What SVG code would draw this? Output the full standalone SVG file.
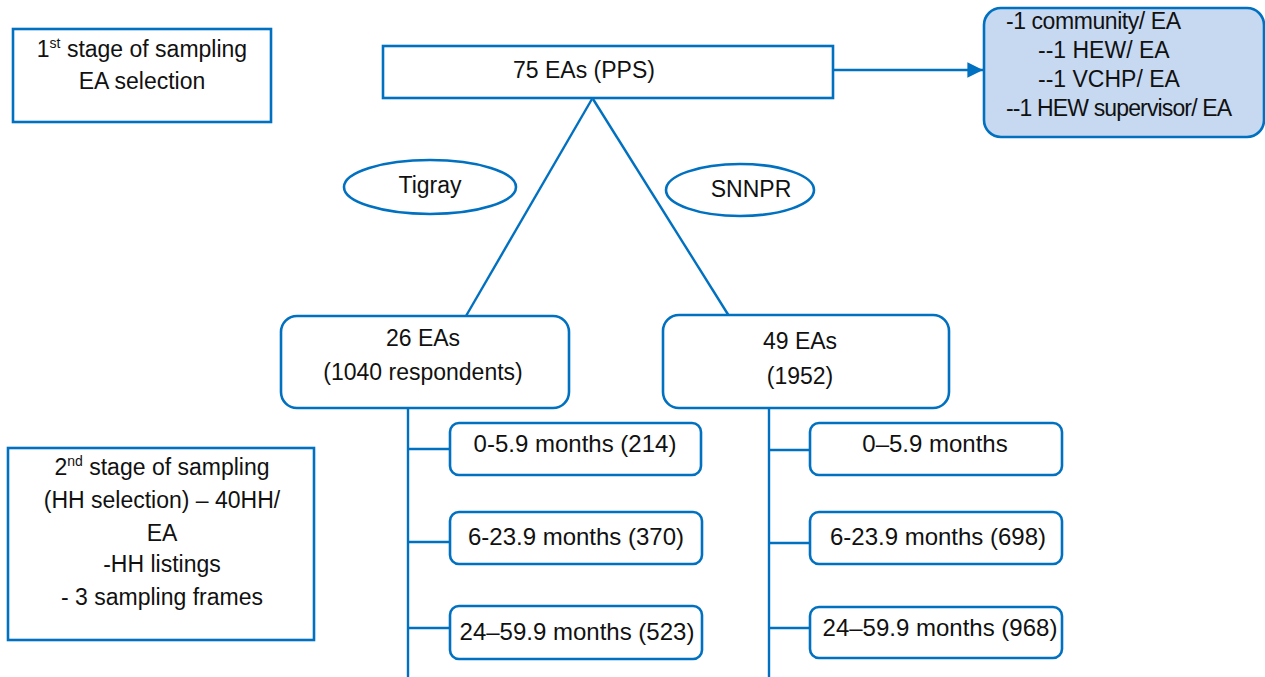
<svg xmlns="http://www.w3.org/2000/svg" width="1265" height="677" viewBox="0 0 1265 677">
  <defs>
    <style>
      .box { fill: #ffffff; stroke: #0070c0; stroke-width: 2.6; }
      .note { fill: #c6d9f1; stroke: #0070c0; stroke-width: 2.6; }
      .link { fill: none; stroke: #0070c0; stroke-width: 2.4; }
      text { font-family: "Liberation Sans", Arial, sans-serif; font-size: 23px; fill: #111111; }
      .c { text-anchor: middle; }
      .age { font-size: 24px; }
      .sup { font-size: 14px; }
    </style>
    <marker id="arrow" viewBox="0 0 10 10" refX="10" refY="5" markerWidth="7" markerHeight="6.5" markerUnits="strokeWidth" orient="auto">
      <path d="M0,0 L10,5 L0,10 Z" fill="#0070c0"/>
    </marker>
  </defs>

  <rect width="1265" height="677" fill="#ffffff"/>

  <!-- connectors -->
  <g id="connectors">
    <line class="link" x1="833" y1="70" x2="983" y2="70" marker-end="url(#arrow)"/>
    <line class="link" x1="592" y1="99" x2="466" y2="316"/>
    <line class="link" x1="593" y1="99" x2="729" y2="316"/>
    <!-- Tigray branch -->
    <line class="link" x1="408" y1="408" x2="408" y2="677"/>
    <line class="link" x1="408" y1="449" x2="450" y2="449"/>
    <line class="link" x1="408" y1="542" x2="450" y2="542"/>
    <line class="link" x1="408" y1="628" x2="450" y2="628"/>
    <!-- SNNPR branch -->
    <line class="link" x1="769" y1="408" x2="769" y2="677"/>
    <line class="link" x1="769" y1="450" x2="810" y2="450"/>
    <line class="link" x1="769" y1="543" x2="810" y2="543"/>
    <line class="link" x1="769" y1="628" x2="810" y2="628"/>
  </g>

  <g id="stage1">
    <rect class="box" x="13" y="29" width="258" height="93"/>
    <text class="c" x="142" y="57">1<tspan class="sup" dy="-9">st</tspan><tspan dy="9"> stage of sampling</tspan></text>
    <text class="c" x="142" y="89">EA selection</text>
  </g>

  <g id="ea75">
    <rect class="box" x="383" y="46" width="450" height="52"/>
    <text class="c" x="584" y="78">75 EAs (PPS)</text>
  </g>

  <g id="community">
    <rect class="note" x="984" y="8" width="280" height="129" rx="17" ry="17"/>
    <text x="1006" y="29" textLength="175">-1 community/ EA</text>
    <text x="1038" y="58">--1 HEW/ EA</text>
    <text x="1038" y="87">--1 VCHP/ EA</text>
    <text x="1006" y="116" textLength="226">--1 HEW supervisor/ EA</text>
  </g>

  <g id="tigray">
    <ellipse class="box" cx="430" cy="187" rx="86" ry="27"/>
    <text class="c" x="430" y="193">Tigray</text>
  </g>

  <g id="snnpr">
    <ellipse class="box" cx="740" cy="190" rx="74" ry="26"/>
    <text class="c" x="751" y="197">SNNPR</text>
  </g>

  <g id="ea26">
    <rect class="box" x="281" y="316" width="288" height="92" rx="16" ry="16"/>
    <text class="c" x="423" y="346">26 EAs</text>
    <text class="c" x="423" y="380">(1040 respondents)</text>
  </g>

  <g id="ea49">
    <rect class="box" x="663" y="315" width="286" height="93" rx="16" ry="16"/>
    <text class="c" x="800" y="349">49 EAs</text>
    <text class="c" x="800" y="384">(1952)</text>
  </g>

  <g id="stage2">
    <rect class="box" x="8" y="448" width="306" height="192"/>
    <text class="c" x="162" y="475">2<tspan class="sup" dy="-9">nd</tspan><tspan dy="9"> stage of sampling</tspan></text>
    <text class="c" x="162" y="508">(HH selection) – 40HH/</text>
    <text class="c" x="162" y="541">EA</text>
    <text class="c" x="162" y="572">-HH listings</text>
    <text class="c" x="162" y="605">- 3 sampling frames</text>
  </g>

  <g id="t-0-6">
    <rect class="box" x="450" y="423" width="251" height="52" rx="9" ry="9"/>
    <text class="c age" x="575" y="452">0-5.9 months (214)</text>
  </g>
  <g id="t-6-24">
    <rect class="box" x="450" y="512" width="252" height="52" rx="9" ry="9"/>
    <text class="c age" x="576" y="545">6-23.9 months (370)</text>
  </g>
  <g id="t-24-60">
    <rect class="box" x="450" y="606" width="252" height="53" rx="9" ry="9"/>
    <text class="c age" x="577" y="640">24–59.9 months (523)</text>
  </g>

  <g id="s-0-6">
    <rect class="box" x="810" y="423" width="252" height="52" rx="9" ry="9"/>
    <text class="c age" x="935" y="452">0–5.9 months</text>
  </g>
  <g id="s-6-24">
    <rect class="box" x="810" y="512" width="252" height="52" rx="9" ry="9"/>
    <text class="c age" x="938" y="545">6-23.9 months (698)</text>
  </g>
  <g id="s-24-60">
    <rect class="box" x="810" y="607" width="252" height="51" rx="9" ry="9"/>
    <text class="c age" x="940" y="636">24–59.9 months (968)</text>
  </g>
</svg>
